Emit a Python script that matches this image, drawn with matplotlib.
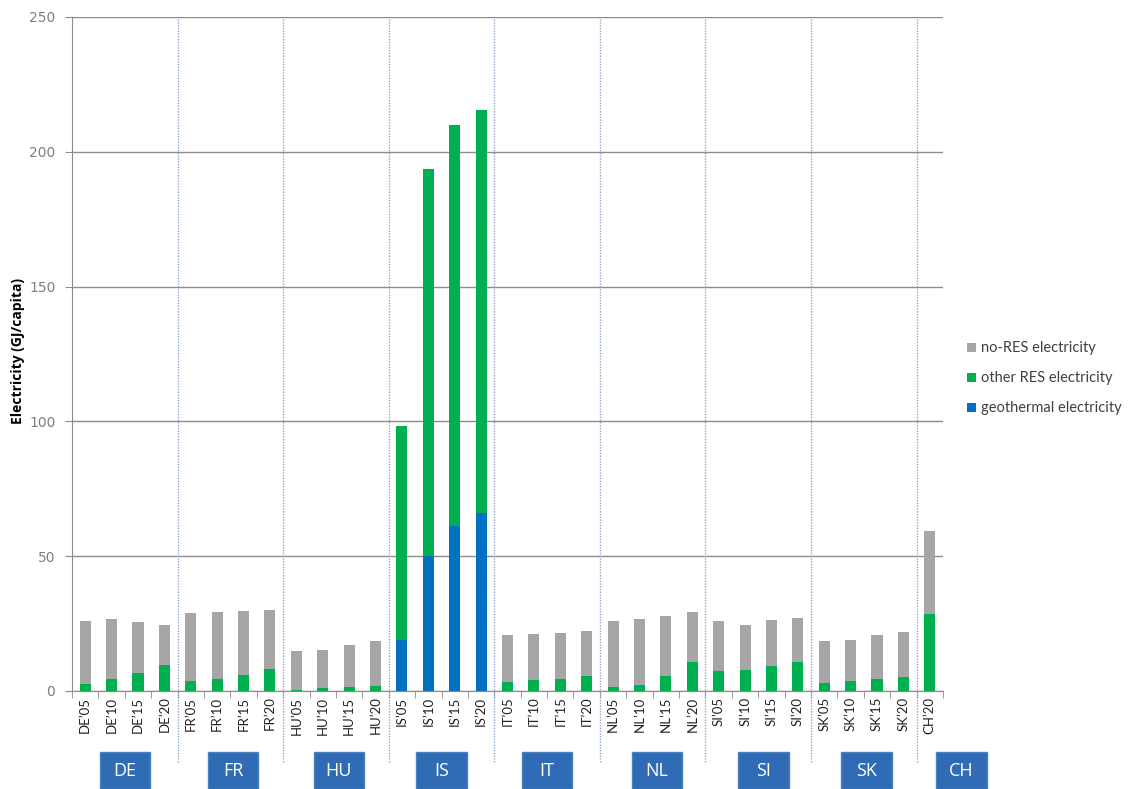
import matplotlib
matplotlib.use("Agg")
import matplotlib.pyplot as plt
from matplotlib.patches import Patch, Rectangle
from matplotlib.transforms import blended_transform_factory

# ---------------- data ----------------
categories = ["DE’05", "DE’10", "DE’15", "DE’20",
              "FR’05", "FR’10", "FR’15", "FR’20",
              "HU’05", "HU’10", "HU’15", "HU’20",
              "IS’05", "IS’10", "IS’15", "IS’20",
              "IT’05", "IT’10", "IT’15", "IT’20",
              "NL’05", "NL’10", "NL’15", "NL’20",
              "SI’05", "SI’10", "SI’15", "SI’20",
              "SK’05", "SK’10", "SK’15", "SK’20",
              "CH’20"]

geothermal = [0, 0, 0, 0,
              0, 0, 0, 0,
              0, 0, 0, 0,
              19.0, 50.0, 61.3, 66.2,
              0, 0, 0, 0,
              0, 0, 0, 0,
              0, 0, 0, 0,
              0, 0, 0, 0,
              0]
other_res = [2.5, 4.6, 6.7, 9.5,
             3.8, 4.6, 5.9, 8.2,
             0.4, 1.1, 1.5, 1.9,
             79.4, 143.7, 148.8, 149.2,
             3.2, 4.0, 4.6, 5.6,
             1.5, 2.1, 5.6, 10.6,
             7.5, 7.9, 9.3, 10.6,
             2.8, 3.6, 4.6, 5.3,
             28.4]
no_res = [23.6, 22.0, 19.0, 14.9,
          25.1, 24.7, 23.8, 21.8,
          14.4, 14.1, 15.4, 16.5,
          0, 0, 0, 0,
          17.5, 17.3, 17.0, 16.7,
          24.3, 24.5, 22.3, 18.7,
          18.3, 16.6, 16.9, 16.6,
          15.6, 15.2, 16.0, 16.7,
          31.1]

groups = ["DE", "FR", "HU", "IS", "IT", "NL", "SI", "SK", "CH"]
group_sizes = [4, 4, 4, 4, 4, 4, 4, 4, 1]

series_labels = ["geothermal electricity", "other RES electricity", "no-RES electricity"]
colors = ["#0070c0", "#00b050", "#a6a6a6"]

y_ticks = [0, 50, 100, 150, 200, 250]

# ---------------- figure ----------------
W, H = 1129, 789
fig = plt.figure(figsize=(W / 100, H / 100), dpi=100)
ax = fig.add_axes([72 / W, 1 - 691 / H, (943 - 72) / W, (691 - 17) / H])

x = list(range(len(categories)))
bar_w = 0.42
bottom1 = geothermal
bottom2 = [g + o for g, o in zip(geothermal, other_res)]
ax.bar(x, geothermal, width=bar_w, color=colors[0], zorder=3)
ax.bar(x, other_res, width=bar_w, bottom=bottom1, color=colors[1], zorder=3)
ax.bar(x, no_res, width=bar_w, bottom=bottom2, color=colors[2], zorder=3)

ax.set_xlim(-0.5, len(categories) - 0.5)
ax.set_ylim(0, 250)
ax.set_yticks(y_ticks)
ax.set_yticklabels([str(t) for t in y_ticks], fontsize=10, color="#7f7f7f",
                   fontfamily="DejaVu Sans")
ax.yaxis.grid(True, color="#8c8c8c", linewidth=1.0, zorder=1)
ax.tick_params(axis="y", length=5, color="#8c8c8c", pad=7)

ax.set_xticks(x)
ax.set_xticklabels(categories, rotation=90, fontsize=9.5, fontfamily="Lato", color="#222222")
ax.tick_params(axis="x", length=0, pad=4)
ax.set_xticks([i - 0.5 for i in range(len(categories) + 1)], minor=True)
ax.tick_params(axis="x", which="minor", length=5, color="#8c8c8c")

for s in ["top", "right"]:
    ax.spines[s].set_visible(False)
for s in ["left", "bottom"]:
    ax.spines[s].set_color("#8c8c8c")

ax.set_ylabel("Electricity (GJ/capita)", fontsize=10, fontweight="bold",
              fontfamily="Open Sans")
ax.yaxis.set_label_coords(-0.054, 0.505)

# group separators
bounds = []
acc = 0
for n in group_sizes[:-1]:
    acc += n
    bounds.append(acc - 0.5)
for b in bounds:
    ax.axvline(b, ymin=-0.105, ymax=0.9985, color="#8fa9c9", linewidth=1.0,
               linestyle=(0, (1, 1)), clip_on=False, zorder=2)

# group boxes
trans = blended_transform_factory(ax.transData, fig.transFigure)
centers = []
acc = 0
for n in group_sizes:
    centers.append(acc + (n - 1) / 2)
    acc += n
box_offsets = [0, 0.1, 0.1, 0.0, 0.0, 0.15, 0.2, 0.1, 1.2]
box_w = 1.9
box_y0 = 0.0
box_h = (789 - 752) / H
for g, c, off in zip(groups, centers, box_offsets):
    cx = c + off
    fig.patches.append(Rectangle((cx - box_w / 2, box_y0), box_w, box_h,
                                 transform=trans, facecolor="#2f6cb5",
                                 edgecolor="#4a82c4", linewidth=1.0))
    fig.text(cx, box_y0 + box_h * 0.48, g, transform=trans, ha="center", va="center",
             color="white", fontsize=13, fontfamily="Open Sans")

# legend
handles = [Patch(facecolor=colors[2]), Patch(facecolor=colors[1]), Patch(facecolor=colors[0])]
labels = [series_labels[2], series_labels[1], series_labels[0]]
leg = fig.legend(handles, labels, loc="upper left", bbox_to_anchor=(0.845, 0.584),
                 frameon=False, handlelength=0.6, handleheight=0.6,
                 handletextpad=0.35, labelspacing=1.1, prop={"family": "Lato", "size": 10.5})
for t in leg.get_texts():
    t.set_color("#404040")

fig.savefig("out.png", dpi=100, facecolor="white")
